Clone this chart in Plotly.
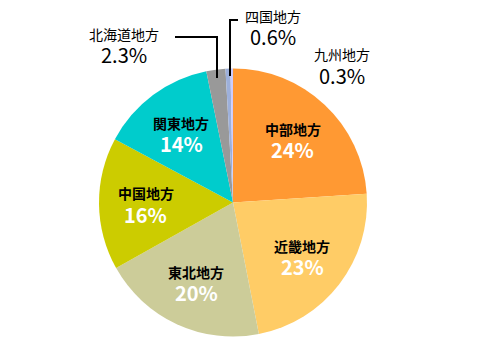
import math
import plotly.graph_objects as go

labels = ["中部地方", "近畿地方", "東北地方", "中国地方", "関東地方", "北海道地方", "四国地方", "九州地方"]
values = [24, 23, 20, 16, 14, 2.3, 0.6, 0.3]
pct_text = ["24%", "23%", "20%", "16%", "14%", "2.3%", "0.6%", "0.3%"]
colors = ["#FF9933", "#FFCC66", "#CCCC99", "#CCCC00", "#00CCCC", "#999999", "#9DB0DA", "#CCCCFF"]

W, H = 480, 356
CX, CY, R = 233, 202.5, 134
FONT = "Noto Sans CJK JP"

fig = go.Figure(go.Pie(
    labels=labels, values=values, sort=False, direction="clockwise", rotation=0,
    marker=dict(colors=colors, line=dict(width=0)),
    textinfo="none", hoverinfo="skip", showlegend=False,
    domain=dict(x=[(CX - R) / W, (CX + R) / W], y=[(H - CY - R) / H, (H - CY + R) / H]),
))

def text_ann(x, y, s, size, color):
    return dict(x=x / W, y=1 - y / H, text=s, showarrow=False, xref="paper", yref="paper",
                xanchor="center", yanchor="middle", borderpad=0,
                font=dict(family=FONT, size=size, color=color))

ann = []
total = sum(values)
cum = 0
for i, (lab, v, t) in enumerate(zip(labels, values, pct_text)):
    mid = (cum + v / 2) / total
    cum += v
    if v < 5:
        continue
    th = 2 * math.pi * mid
    r = 0.65 * R
    x = CX + r * math.sin(th)
    y = CY - r * math.cos(th)
    ann.append(text_ann(x, y - 10, "<b>" + lab + "</b>", 14, "#000000"))
    ann.append(text_ann(x, y + 11, "<b>" + t + "</b>", 20, "#FFFFFF"))

outside = {5: (124, 34, 55), 6: (273, 16, 37), 7: (342, 54, 75)}
for i, (x, y1, y2) in outside.items():
    ann.append(text_ann(x, y1, labels[i], 14, "#000000"))
    ann.append(text_ann(x, y2, pct_text[i], 20, "#000000"))

shapes = []
for pts in ([(175, 37), (217, 37), (217, 78)], [(238, 20), (230, 20), (230, 76)]):
    path = "M " + " L ".join(f"{px / W} {1 - py / H}" for px, py in pts)
    shapes.append(dict(type="path", path=path, xref="paper", yref="paper",
                       line=dict(color="#000000", width=2)))

fig.update_layout(width=W, height=H, margin=dict(l=0, r=0, t=0, b=0),
                  paper_bgcolor="white", plot_bgcolor="white",
                  annotations=ann, shapes=shapes)
fig.write_html("out.html", config={"displayModeBar": False},
               post_script="document.body.style.margin='0';")
